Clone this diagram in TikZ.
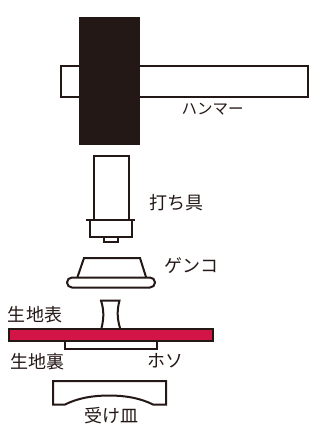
\documentclass[tikz,border=0pt]{standalone}
\usepackage{fontspec}
\setmainfont{Noto Sans CJK JP}
\usepackage{tikz}
\definecolor{inkdark}{RGB}{35,24,21}
\definecolor{clothred}{RGB}{211,20,70}
\tikzset{
part/.style={draw=inkdark, line width=2pt, fill=white},
lbl/.style={text=inkdark, inner sep=0pt, font=\fontsize{18}{18}\selectfont}
}
\begin{document}
\begin{tikzpicture}[x=1pt, y=-1pt]
\useasboundingbox (0,0) rectangle (336,425);

% hammer
\draw[part] (60.5,66) rectangle (308,97);
\fill[inkdark] (78.7,17) rectangle (140,145);

% punch
\draw[part] (93.5,155.5) rectangle (128.5,220);
\draw[part] (103.5,237) rectangle (117.5,241.5);
\draw[part] (89.5,220) rectangle (131.5,237);
\draw[part] (86,220) -- (135,220);

% genko
\draw[part] (77.5,277) -- (84,258) -- (140,258) -- (146,277);
\draw[part, rounded corners=5pt] (67,277.5) rectangle (155,287.5);

% post
\draw[part] (101.5,328) .. controls (104,318) and (104,310) .. (101,300.5) -- (119.5,300.5) .. controls (117,310) and (117,318) .. (120,328);

% cloth and backing
\draw[part] (65,341) rectangle (156.5,348.5);
\draw[part, fill=clothred] (8.5,328.5) rectangle (212.5,340.5);

% dish
\draw[part] (53,381) -- (166,381) -- (166,404.5) -- (153,404.5) .. controls (140,398) and (125,395.5) .. (109,395.5) .. controls (93,395.5) and (78,398) .. (65,404.5) -- (53,404.5) -- cycle;

\node[lbl, font=\fontsize{15.5}{15.5}\selectfont] (hammerlbl) at (212.5,109) {ハンマー};
\node[lbl] (punchlbl) at (176.5,203) {打ち具};
\node[lbl] (genkolbl) at (191,266) {ゲンコ};
\node[lbl] (frontlbl) at (35,315) {生地表};
\node[lbl] (backlbl) at (37,362) {生地裏};
\node[lbl] (hosolbl) at (165,361) {ホソ};
\node[lbl] (dishlbl) at (111,415.5) {受け皿};
\end{tikzpicture}
\end{document}
